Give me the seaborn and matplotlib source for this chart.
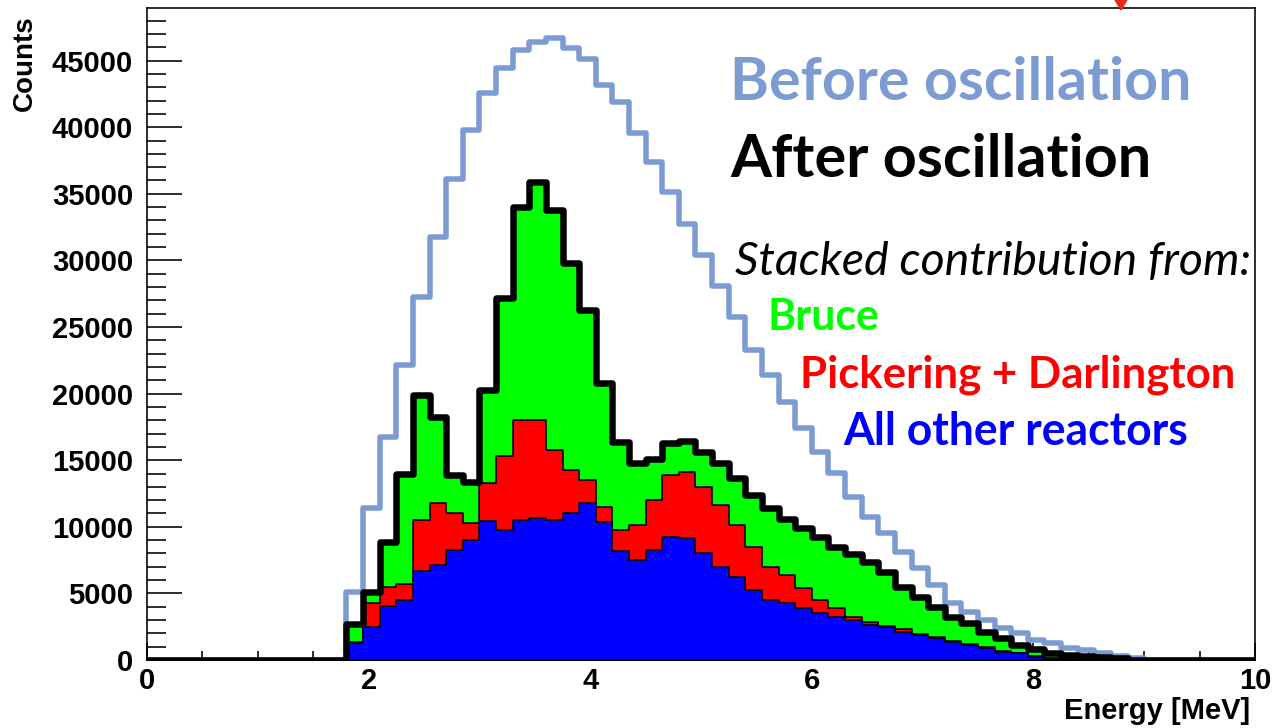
import numpy as np
import pandas as pd
import matplotlib
matplotlib.use("Agg")
import matplotlib.pyplot as plt
import seaborn as sns
from matplotlib.ticker import MultipleLocator

sns.set_theme(style="white")
plt.rcParams["font.family"] = ["Liberation Sans", "DejaVu Sans"]
plt.rcParams.update({"text.color": "black", "axes.labelcolor": "black",
                     "xtick.color": "black", "ytick.color": "black"})

# ---------------------------------------------------------------- data
bin_width = 0.15          # MeV
first_bin = 1.8           # MeV, lower edge of the first non-empty bin
x_max = 10.0

# counts per 0.15 MeV bin, starting at 1.8 MeV
before_oscillation = [
    5130, 11390, 16770, 22150, 27280, 31780, 36100, 39790, 42550, 44420,
    45800, 46420, 46680, 45930, 45100, 43170, 41920, 39550, 37410, 35100,
    32700, 30400, 28100, 25780, 23270, 21400, 19400, 17400, 15640, 14020,
    12260, 10760, 9500, 8100, 6900, 5600, 4260, 3630, 3000, 2380,
    2000, 1500, 1250, 880, 750, 500, 300, 150,
]
other_reactors = [
    1300, 2480, 4050, 4540, 6700, 7130, 8260, 9010, 10400, 9760,
    10510, 10660, 10510, 11040, 11790, 10360, 8200, 7510, 8260, 9240,
    9160, 8030, 6980, 6230, 5260, 4500, 4280, 3900, 3530, 3230,
    3000, 2650, 2450, 2130, 1880, 1630, 1380, 1130, 880, 630,
    500, 250, 100, 50, 30, 20, 10, 0,
]
pickering_darlington = [
    50, 1800, 1430, 1200, 3800, 4670, 2780, 1280, 2890, 5560,
    7510, 7360, 5260, 3230, 1720, 1130, 1560, 2630, 3750, 4650,
    4950, 4960, 4660, 3910, 3220, 2480, 2100, 1510, 970, 670,
    200, 200, 100, 170, 100, 100, 80, 70, 70, 70,
    60, 50, 30, 30, 20, 10, 10, 0,
]
bruce = [
    1350, 860, 3380, 8260, 9400, 6450, 2860, 3080, 6980, 11860,
    15990, 17870, 18020, 15540, 12770, 9310, 6640, 4650, 3080, 2400,
    2330, 2630, 3150, 3520, 3910, 4420, 4220, 4490, 4700, 4600,
    4750, 4500, 4080, 3200, 2770, 2270, 1790, 1550, 1180, 930,
    570, 500, 420, 320, 250, 170, 130, 0,
]

# ---------------------------------------------------------------- binning
n_lead = int(round(first_bin / bin_width))
n_bins = int(np.ceil(x_max / bin_width))
edges = list(np.arange(n_bins + 1) * bin_width)
centers = 0.5 * (np.array(edges[:-1]) + np.array(edges[1:]))


def full_range(values):
    out = np.zeros(n_bins)
    out[n_lead:n_lead + len(values)] = values
    return out


before = full_range(before_oscillation)
layer_blue = full_range(other_reactors)
layer_red = layer_blue + full_range(pickering_darlington)
layer_green = layer_red + full_range(bruce)


def frame(vals):
    return pd.DataFrame({"energy": centers, "counts": vals})


# ---------------------------------------------------------------- figure
W, H = 1284, 728
PT = 72 / 100            # points per pixel at 100 dpi
fig = plt.figure(figsize=(W / 100, H / 100), dpi=100)
ax_l, ax_r, ax_t, ax_b = 147, 1255, 8, 660
ax = fig.add_axes([ax_l / W, 1 - ax_b / H, (ax_r - ax_l) / W, (ax_b - ax_t) / H])
ax.set_facecolor("white")

hist_kw = dict(x="energy", weights="counts", bins=edges, element="step",
               stat="count", ax=ax)

sns.histplot(data=frame(before), fill=False, color="#7b9bd2",
             linewidth=5.5 * PT, zorder=2, **hist_kw)
for vals, col in [(layer_green, "#00ff00"), (layer_red, "#ff0000"),
                  (layer_blue, "#0000ff")]:
    sns.histplot(data=frame(vals), fill=True, color=col, alpha=1.0,
                 edgecolor="black", linewidth=1.6 * PT, zorder=3, **hist_kw)
sns.histplot(data=frame(layer_green), fill=False, color="black",
             linewidth=6.5 * PT, zorder=4, **hist_kw)

ax.set_xlim(0, x_max)
ax.set_ylim(0, 48950)

ax.xaxis.set_major_locator(MultipleLocator(2))
ax.xaxis.set_minor_locator(MultipleLocator(0.5))
ax.yaxis.set_major_locator(MultipleLocator(5000))
ax.yaxis.set_minor_locator(MultipleLocator(1000))
ax.tick_params(which="both", direction="in", top=False, right=False,
               bottom=True, left=True, width=1.6 * PT, labelsize=21)
ax.tick_params(axis="x", which="major", length=17 * PT, pad=5)
ax.tick_params(axis="x", which="minor", length=9 * PT)
ax.tick_params(axis="y", which="major", length=35 * PT, pad=10)
ax.tick_params(axis="y", which="minor", length=19 * PT)
for lab in ax.get_xticklabels() + ax.get_yticklabels():
    lab.set_fontweight("bold")
for sp in ax.spines.values():
    sp.set_visible(True)
    sp.set_color("black")
    sp.set_linewidth(1.6 * PT)
ax.grid(False)
ax.set_xlabel("")
ax.set_ylabel("")

fig.text(1250 / W, 1 - 697 / H, "Energy [MeV]", fontsize=21, fontweight="bold",
         ha="right", va="top")
fig.text(25 / W, 1 - 15 / H, "Counts", fontsize=20, fontweight="bold",
         rotation=90, ha="center", va="top")

# small red pointer at the top edge
fig.add_artist(matplotlib.patches.FancyArrowPatch(
    (1121 / W, 1.02), (1121 / W, 1 - 14 / H), transform=fig.transFigure,
    arrowstyle="-|>,head_length=5,head_width=3", color="#e8281e",
    linewidth=1.5, mutation_scale=1.6))

# ---------------------------------------------------------------- annotation text
fig.canvas.draw()
renderer = fig.canvas.get_renderer()


def place(text, left_px, mid_px, width_px, color, **kw):
    t = fig.text(left_px / W, 1 - mid_px / H, text, color=color,
                 ha="left", va="center", fontsize=30, **kw)
    w = t.get_window_extent(renderer).width
    t.set_fontsize(30 * width_px / w)
    return t


label_font = ["Lato", "DejaVu Sans"]
place("Before oscillation", 730, 83, 460, "#7b9bd2", fontweight="bold", family=label_font)
place("After oscillation", 730, 160, 420, "black", fontweight="bold", family=label_font)
place("Stacked contribution from:", 735, 262, 515, "black", fontstyle="italic", family=label_font)
place("Bruce", 768, 317, 112, "#00ff00", fontweight="bold", family=label_font)
place("Pickering + Darlington", 800, 375, 435, "#ff0000", fontweight="bold", family=label_font)
place("All other reactors", 843, 432, 345, "#0000ff", fontweight="bold", family=label_font)

fig.savefig("out.png", dpi=100, facecolor="white")
